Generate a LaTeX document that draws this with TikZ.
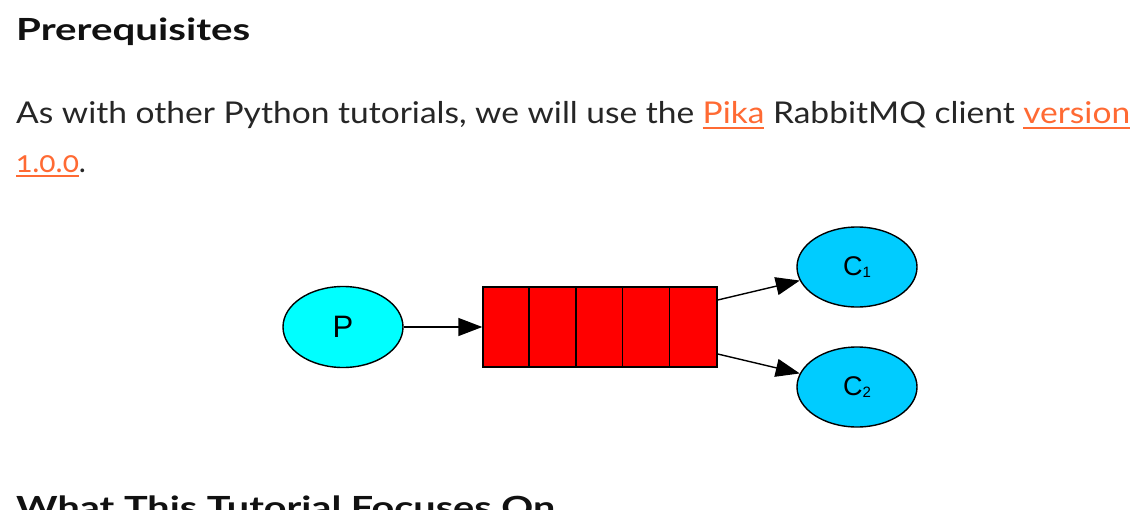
\documentclass[tikz,border=0pt]{standalone}
\usepackage{fontspec}
\setmainfont{Lato}
\newfontfamily\labelfont{Liberation Sans}
\usetikzlibrary{shapes.geometric,arrows.meta}
\definecolor{linkor}{HTML}{FF6A33}
\definecolor{bodytxt}{HTML}{262626}
\definecolor{headtxt}{HTML}{111111}
\definecolor{pcyan}{HTML}{00FFFF}
\definecolor{csky}{HTML}{00CCFF}
\definecolor{qred}{HTML}{FF0000}
\newcommand\fitw[2]{\setbox0\hbox{#2}\pgfmathsetmacro\myscx{#1/\the\wd0}\scalebox{\myscx}[1]{\box0}}
\newcommand\lnk[1]{\textcolor{linkor}{\setbox2\hbox{#1}\rlap{\rule[-4.5pt]{\wd2}{1.8pt}}\box2}}
\tikzset{
  headline/.style={anchor=base west, inner sep=0pt, text=headtxt, font=\bfseries\fontsize{30.5}{36}\selectfont},
  bodyline/.style={anchor=base west, inner sep=0pt, text=bodytxt, font=\fontsize{30}{36}\selectfont},
  pnode/.style={ellipse, draw=black, line width=1.4pt, fill=pcyan, minimum width=120pt, minimum height=81pt, inner sep=0pt, font=\labelfont\fontsize{31}{31}\selectfont},
  cnode/.style={ellipse, draw=black, line width=1.4pt, fill=csky, minimum width=120pt, minimum height=80pt, inner sep=0pt, font=\labelfont\fontsize{27}{27}\selectfont},
  queue/.style={rectangle, draw=black, line width=1.4pt, fill=qred, minimum width=234pt, minimum height=80pt, inner sep=0pt},
  divider/.style={draw=black, line width=1.4pt},
  arr/.style={draw=black, line width=1.4pt, -{Triangle[length=24pt,width=18pt]}}
}
\newcommand\sub[1]{\raisebox{-2pt}{\fontsize{15}{15}\selectfont #1}}
\begin{document}
\begin{tikzpicture}[x=1pt,y=-1pt]
\useasboundingbox (0,0) rectangle (1141,527);
\fill[white] (0,0) rectangle (1141,527);
% text
\node[headline] (h1) at (16,41) {\fitw{234}{Prerequisites}};
\node[bodyline] (l1) at (16,124) {\fitw{1114}{As with other Python tutorials, we will use the \lnk{Pika} RabbitMQ client \lnk{version}}};
\node[bodyline] (l2) at (16,172) {\lnk{\addfontfeatures{Numbers=OldStyle}1.0.0}.};
\begin{scope}
\clip (0,0) rectangle (1141,509);
\node[headline] (h2) at (16,518) {\fitw{539}{What This Tutorial Focuses On}};
\end{scope}
% diagram
\node[pnode] (p) at (343,327) {P};
\node[queue] (q) at (600,327) {};
\draw[divider] ([xshift=46.8pt]q.north west) -- ([xshift=46.8pt]q.south west);
\draw[divider] ([xshift=93.6pt]q.north west) -- ([xshift=93.6pt]q.south west);
\draw[divider] ([xshift=140.4pt]q.north west) -- ([xshift=140.4pt]q.south west);
\draw[divider] ([xshift=187.2pt]q.north west) -- ([xshift=187.2pt]q.south west);
\node[cnode] (c1) at (857,267) {C\sub{1}};
\node[cnode] (c2) at (857,387) {C\sub{2}};
\draw[arr] (p) -- (q);
\draw[arr] ([yshift=27pt]q.east) -- (c1);
\draw[arr] ([yshift=-27pt]q.east) -- (c2);
\end{tikzpicture}
\end{document}
